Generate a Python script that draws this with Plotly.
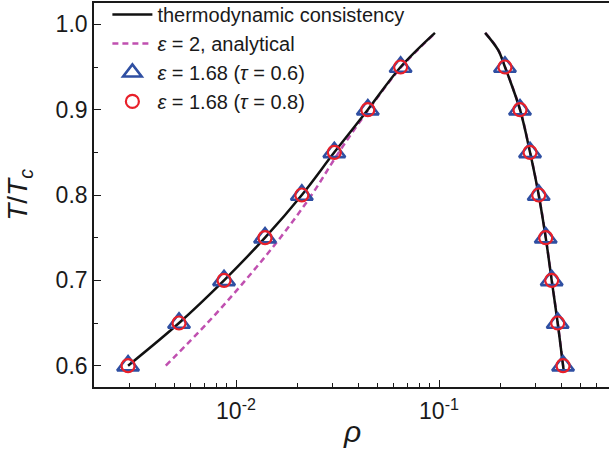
import plotly.graph_objects as go

# ---- data ----
T_pts = [0.60, 0.65, 0.70, 0.75, 0.80, 0.85, 0.90, 0.95]
rho_gas_pts = [0.00294, 0.00524, 0.00873, 0.0139, 0.0211, 0.0305, 0.0446, 0.0647]
rho_liq_pts = [0.4084, 0.3843, 0.3590, 0.3355, 0.3098, 0.2808, 0.2506, 0.2113]

# thermodynamic consistency curve
T_td_gas = [0.60, 0.65, 0.70, 0.75, 0.80, 0.85, 0.90, 0.95, 0.99]
rho_td_gas = [0.00294, 0.00524, 0.00873, 0.0139, 0.0211, 0.0305, 0.0446, 0.0647, 0.0955]
T_td_liq = [0.99, 0.97, 0.95, 0.90, 0.85, 0.80, 0.75, 0.70, 0.65, 0.60, 0.595]
rho_td_liq = [0.1687, 0.1954, 0.2113, 0.2506, 0.2808, 0.3098, 0.3355, 0.3590, 0.3843, 0.4084, 0.411]

# analytical eps=2 curve
T_an_gas = [0.60, 0.65, 0.70, 0.75, 0.80, 0.85, 0.90, 0.95, 0.99]
rho_an_gas = [0.00451, 0.00723, 0.01112, 0.01653, 0.02357, 0.03209, 0.0450, 0.0652, 0.0960]
T_an_liq = [0.99, 0.97, 0.95, 0.90, 0.85, 0.80, 0.75, 0.70, 0.65, 0.60, 0.595]
rho_an_liq = [0.1690, 0.1957, 0.2116, 0.2509, 0.2811, 0.3101, 0.3358, 0.3593, 0.3846, 0.4087, 0.4113]

x_tickvals = [0.01, 0.1]
x_ticktext = ["10<sup>-2</sup>", "10<sup>-1</sup>"]
x_minor = [0.003, 0.004, 0.005, 0.006, 0.007, 0.008, 0.009,
           0.02, 0.03, 0.04, 0.05, 0.06, 0.07, 0.08, 0.09,
           0.2, 0.3, 0.4, 0.5, 0.6]
y_tickvals = [0.6, 0.7, 0.8, 0.9, 1.0]
y_minor = [0.65, 0.75, 0.85, 0.95]

BLACK = "#111111"
MAGENTA = "#c050b0"
BLUE = "#2f4fa2"
RED = "#e8202a"
TXT = "#1a1a1a"

fig = go.Figure()

fig.add_trace(go.Scatter(x=rho_an_gas + [None] + rho_an_liq, y=T_an_gas + [None] + T_an_liq,
                         mode="lines", name="<i>ε</i> = 2, analytical",
                         line=dict(color=MAGENTA, width=2.5, dash="6px,4px", shape="spline"),
                         legendrank=2, connectgaps=False))
fig.add_trace(go.Scatter(x=rho_td_gas + [None] + rho_td_liq, y=T_td_gas + [None] + T_td_liq,
                         mode="lines", name="thermodynamic consistency",
                         line=dict(color=BLACK, width=2.5, shape="spline"),
                         legendrank=1, connectgaps=False))
fig.add_trace(go.Scatter(x=rho_gas_pts + rho_liq_pts, y=T_pts + T_pts, mode="markers",
                         name="<i>ε</i> = 1.68 (<i>τ</i> = 0.6)",
                         marker=dict(symbol="triangle-up-open", size=19, color=BLUE,
                                     line=dict(width=2.6, color=BLUE)),
                         legendrank=3))
fig.add_trace(go.Scatter(x=rho_gas_pts + rho_liq_pts, y=T_pts + T_pts, mode="markers",
                         name="<i>ε</i> = 1.68 (<i>τ</i> = 0.8)",
                         marker=dict(symbol="circle-open", size=13, color=RED,
                                     line=dict(width=2.2, color=RED)),
                         legendrank=4))

FONT = "Liberation Sans, Arial, sans-serif"

fig.update_layout(
    width=609, height=453,
    margin=dict(l=94, r=0, t=3, b=66, autoexpand=False),
    paper_bgcolor="white", plot_bgcolor="white",
    font=dict(family=FONT, color=TXT),
    showlegend=True,
    legend=dict(x=0.026, y=1.021, xanchor="left", yanchor="top", itemwidth=40,
                bgcolor="rgba(0,0,0,0)", font=dict(size=20, family=FONT, color=TXT),
                tracegroupgap=0),
    xaxis=dict(type="log", range=[-2.6995, -0.1626],
               tickvals=x_tickvals, ticktext=x_ticktext,
               ticks="inside", ticklen=7, tickwidth=1.3, tickcolor=TXT,
               minor=dict(tickvals=x_minor, ticks="inside", ticklen=4, tickwidth=1.2, tickcolor=TXT),
               showline=True, linecolor=TXT, linewidth=1.6, mirror=True,
               showgrid=False, zeroline=False, ticklabelstandoff=3,
               tickfont=dict(size=23, family=FONT, color=TXT)),
    yaxis=dict(range=[0.575, 1.025],
               tickvals=y_tickvals, tickformat=".1f",
               ticks="inside", ticklen=7, tickwidth=1.3, tickcolor=TXT,
               minor=dict(tickvals=y_minor, ticks="inside", ticklen=4, tickwidth=1.2, tickcolor=TXT),
               showline=True, linecolor=TXT, linewidth=1.6, mirror=False,
               showgrid=False, zeroline=False,
               tickfont=dict(size=23, family=FONT, color=TXT)),
)

fig.add_annotation(text="<i>ρ</i>", xref="paper", yref="paper", x=0.5, y=-0.1146,
                   xanchor="center", yanchor="middle", showarrow=False,
                   font=dict(size=30, family=FONT, color=TXT))
fig.add_annotation(text="<i>T</i>/<i>T</i><sub><i>c</i></sub>", xref="paper", yref="paper",
                   x=-0.146, y=0.5, xanchor="center", yanchor="middle", textangle=-90,
                   showarrow=False, font=dict(size=28, family=FONT, color=TXT))

fig.write_html("out.html")
